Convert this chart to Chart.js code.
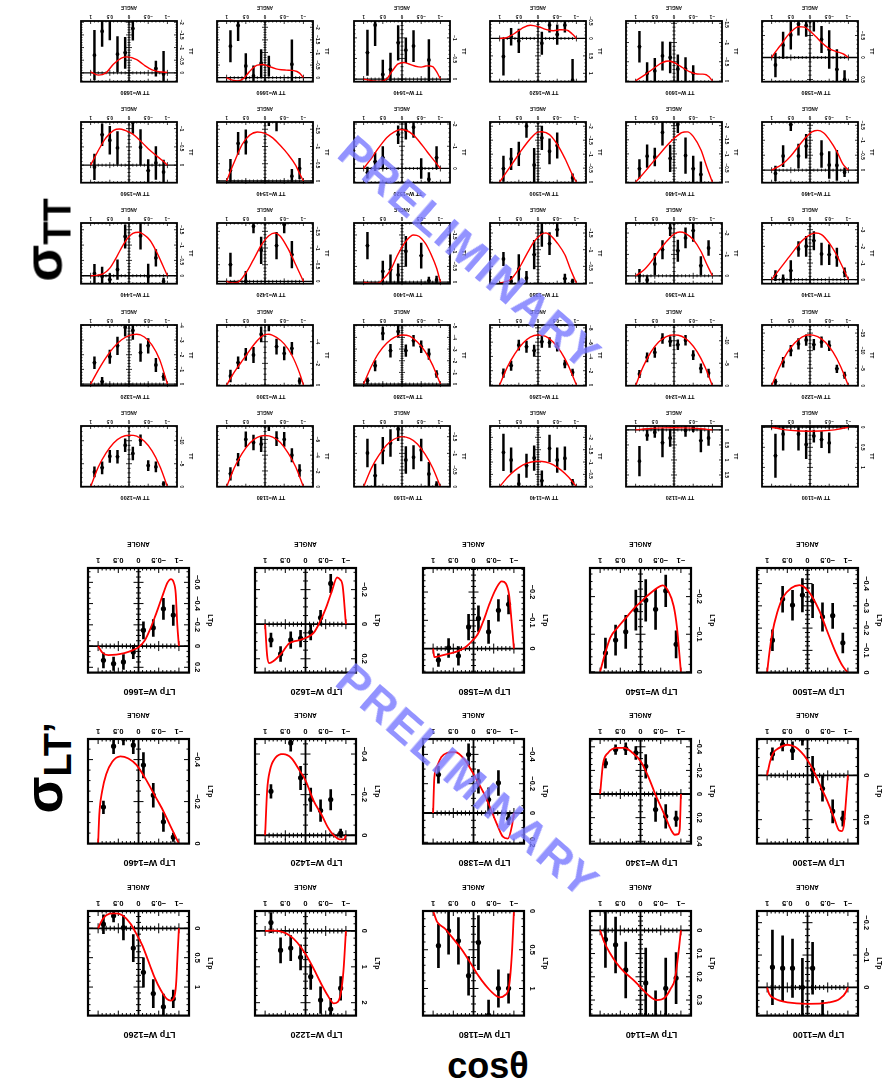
<!DOCTYPE html>
<html><head><meta charset="utf-8">
<script src="https://cdn.jsdelivr.net/npm/chart.js@4.4.1/dist/chart.umd.min.js"></script>
<style>
html,body{margin:0;padding:0;background:#fff;overflow:hidden;}
#page{position:relative;width:886px;height:1084px;overflow:hidden;background:#fff;}
.panel{position:absolute;transform:rotate(180deg);transform-origin:50% 50%;}
.panel canvas{display:block;}
.big{position:absolute;font-family:'Liberation Sans',Arial,Helvetica,sans-serif;font-weight:bold;color:#000;white-space:nowrap;line-height:1;}
.wm{position:absolute;font-family:'Liberation Sans',Arial,Helvetica,sans-serif;font-weight:bold;font-size:45px;letter-spacing:2px;color:rgba(120,120,255,0.8);white-space:nowrap;line-height:1;z-index:10;}
</style></head>
<body><div id="page">
<div class="big" style="left:46px;top:240px;transform:translate(-50%,-50%) rotate(-90deg);font-size:54px;">σ<sub style="font-size:38px;vertical-align:-9px;">TT</sub></div>
<div class="big" style="left:46px;top:768px;transform:translate(-50%,-50%) rotate(-90deg);font-size:54px;">σ<sub style="font-size:38px;vertical-align:-9px;">LT’</sub></div>
<div class="big" style="left:488px;top:1066px;transform:translate(-50%,-50%);font-size:36px;">cosθ</div>
<div class="wm" style="left:470px;top:253px;transform:translate(-50%,-50%) rotate(41deg);">PRELIMINARY</div>
<div class="wm" style="left:468px;top:781px;transform:translate(-50%,-50%) rotate(41deg);">PRELIMINARY</div>
</div>
<script>
// ---------------- DATA ----------------
const X_TICKS = [-1, -0.5, 0, 0.5, 1];

// sigma_TT panels (W ascending)
const TT_W = [1100,1120,1140,1160,1180,1200,1220,1240,1260,1280,1300,1320,1340,1360,1380,1400,1420,1440,1460,1480,1500,1520,1540,1560,1580,1600,1620,1640,1660,1680];
const TT_X = [-0.9,-0.7,-0.5,-0.3,-0.1,0.1,0.3,0.5,0.7,0.9];
const TT_Y = [
 [null,null,0.39,0.31,0.22,0.43,0.17,null,0.17,0.71],
 [0.27,0.36,-0.06,0.02,null,0.27,0.43,0.08,0.18,1.04],
 [-0.18,-1.15,-1.08,-1.55,-0.24,-1.16,-0.85,-0.11,-1.08,-1.39],
 [-0.05,-0.38,-1.1,-0.88,-0.8,-1.73,-1.31,-1.08,-0.33,-1.01],
 [-2.06,-4.0,-6.0,-6.1,-7.9,-5.4,-5.6,-6.0,-3.43,-1.63],
 [-0.6,-4.3,-4.6,-10.1,-7.2,-9.0,-6.5,-6.6,-4.1,-3.2],
 [-3.0,-4.8,-11.4,-12.4,-11.7,-13.0,-11.9,-10.0,-6.7,-1.1],
 [-2.8,-3.85,-6.8,-10.1,-9.1,-9.85,-10.5,-7.4,-6.3,-2.6],
 [-1.77,-2.93,-5.35,-5.95,-6.05,-4.8,-5.35,-5.58,-2.7,-1.67],
 [-0.86,-2.57,-3.2,-3.71,-2.86,-4.5,-2.86,-4.34,-1.57,-0.29],
 [-0.37,-3.38,-2.92,-3.54,-5.7,-4.68,-2.77,-2.83,-2.06,-0.83],
 [-0.5,-1.3,-2.6,-2.14,-3.64,-3.86,-2.6,-1.86,-0.16,-1.45],
 [-0.44,-1.34,-1.5,-1.54,-2.34,-2.0,-1.84,-0.54,-0.04,-0.24],
 [-1.3,-0.47,-2.11,-1.77,-1.17,-2.23,-1.22,-0.55,0.2,0],
 [-0.05,-0.13,-1.6,-1.18,-1.5,-0.85,-0.15,-0.42,-0.05,-0.72],
 [-0.07,-0.04,-0.84,null,-0.98,-0.23,-0.39,-0.34,null,-1.16],
 [null,-0.8,-1.7,-1.07,null,-0.93,-1.65,0,null,-0.5],
 [0.18,-0.58,0.02,-1.3,null,-1.28,-0.2,0.13,0.02,-0.07],
 [0.07,-0.16,-0.17,-0.54,null,-0.8,-0.47,-1.52,-0.47,0.11],
 [null,-0.27,-0.47,-0.94,-2.05,-0.84,-1.76,-0.89,-0.92,-0.47],
 [-0.15,null,-1.31,-1.1,-1.58,-0.61,-2.0,-1.01,-0.83,-0.48],
 [-0.48,0.49,0,-1.85,-1.72,-1.52,null,-0.48,-0.3,0.19],
 [-0.36,-0.14,null,-1.9,-1.95,null,null,-1.13,-1.09,-0.31],
 [0.19,-0.06,0.15,-0.49,-1.17,null,-0.47,-0.68,-0.83,0.05],
 [0.5,0.27,-0.18,-0.41,-0.9,-0.73,-0.76,-0.51,-0.28,0.17],
 [null,null,-0.2,-0.31,-0.31,-0.61,-0.65,-0.26,-0.2,-0.89],
 [1.2,-0.38,-0.11,-0.38,0.14,null,null,0.07,-0.05,0.52],
 [null,-0.46,null,-0.8,-0.7,-0.88,-0.23,-0.11,-1.31,-0.64],
 [null,-0.53,null,null,-0.46,-0.57,-0.07,-0.46,-2.07,-1.25],
 [0.05,-0.17,null,null,-1.75,-0.79,-0.74,-2.3,-1.64,-0.70]
];
const TT_E = [
 [null,null,0.25,0.2,0.15,0.35,0.4,null,0.4,0.54],
 [0.25,0.37,0.12,0.2,null,0.28,0.47,0.17,0.17,0.49],
 [0.12,0.47,0.5,0.54,0.4,0.5,0.47,0.4,0.5,0.74],
 [0.1,0.35,0.33,0.35,0.4,0.35,0.4,0.4,0.35,0.42],
 [0.75,0.85,0.9,0.9,0.8,0.95,0.95,0.95,0.8,0.8],
 [0.5,1.1,1.1,1.2,1.4,1.4,1.4,1.3,1.3,1.1],
 [0.9,1.1,1.4,1.5,1.5,1.5,1.5,1.5,1.4,0.8],
 [0.9,1.0,1.0,1.1,1.1,1.1,1.1,1.1,1.0,0.8],
 [0.45,0.55,0.6,0.7,0.8,0.8,0.8,0.7,0.65,0.6],
 [0.3,0.45,0.5,0.47,0.5,0.5,0.55,0.55,0.45,0.25],
 [0.3,0.55,0.6,0.7,0.7,0.7,0.7,0.55,0.55,0.55],
 [0.25,0.45,0.5,0.6,0.6,0.6,0.6,0.45,0.3,0.4],
 [0.27,0.55,0.6,0.65,0.55,0.6,0.45,0.6,0.25,0.3],
 [0.35,0.43,0.5,0.47,0.5,0.35,0.43,0.5,0.2,0.3],
 [0.07,0.14,0.2,0.33,0.4,0.43,0.2,0.43,0.15,0.2],
 [0.12,0.12,0.4,null,0.48,0.35,0.48,0.33,null,0.42],
 [null,0.4,0.25,0.4,null,0.4,0.2,0.3,null,0.35],
 [0.1,0.27,0.4,0.43,null,0.38,0.32,0.2,0.3,0.3],
 [0.15,0.5,0.45,0.45,null,0.4,0.4,0.2,0.35,0.25],
 [null,0.45,0.45,0.63,0.3,0.47,0.45,0.32,0.4,0.33],
 [0.15,null,0.45,0.45,0.42,0.6,0.4,0.42,0.38,0.45],
 [0.5,0.3,0.45,0.45,0.4,0.4,null,0.5,0.4,0.25],
 [0.3,0.2,null,0.45,0.35,null,null,0.35,0.32,0.32],
 [0.33,0.45,0.3,0.48,0.3,null,0.45,0.38,0.3,0.35],
 [0.2,0.45,0.43,0.3,0.3,0.25,0.25,0.32,0.3,0.27],
 [null,null,0.2,0.3,0.37,0.4,0.37,0.33,0.28,0.4],
 [0.6,0.2,0.28,0.2,0.32,null,null,0.34,0.24,0.53],
 [null,0.5,null,0.38,0.3,0.42,0.4,0.35,0.5,0.55],
 [null,0.97,null,null,0.4,0.55,0.4,0.5,0.6,0.62],
 [0.9,0.3,null,null,0.46,0.61,0.69,1.0,0.6,0.98]
];
const TT_YMIN = [-0.03,-0.13,-2.46,-1.82,-7.7,-13.2,-17.3,-13.5,-8.4,-5.06,-5.54,-4.02,-3.4,-2.47,-1.8,-1.88,-1.75,-1.72,-1.61,-2.13,-2.15,-2.09,-1.71,-1.18,-0.83,-1.56,-0.5,-1.41,-2.25,-2.05];
const TT_YMAX = [1.48,1.89,0,0,0,0,0,0,0.1,0.14,0.06,0.11,0.24,0.37,0.02,0.05,0.07,0.26,0.42,0.02,0.02,0.64,0.05,0.48,0.55,0.02,1.24,0.065,0.16,0.35];
const TT_YSTEP = [0.5,0.5,0.5,0.5,2,5,5,5,2,1,2,1,1,1,0.5,0.5,0.5,0.5,0.5,0.5,0.5,1,0.5,0.5,0.5,0.5,0.5,0.5,0.5,0.5];
const FX11 = [-1,-0.8,-0.6,-0.4,-0.2,0,0.2,0.4,0.6,0.8,1];
const TT_FIT_X = [
 [-1,-0.8,-0.5,0,0.5,0.8,1],
 [-1,-0.8,-0.6,0,0.6,0.8,1],
 FX11, FX11, FX11, FX11, FX11, FX11, FX11, FX11,
 [-1,-0.9,-0.7,-0.5,-0.3,-0.1,0,0.2,0.4,0.6,0.8,1],
 FX11,
 [-1,-0.85,-0.7,-0.5,-0.3,-0.15,0,0.2,0.4,0.6,0.8,1],
 [-1,-0.85,-0.7,-0.5,-0.3,-0.15,0,0.2,0.4,0.6,0.8,1],
 [-1,-0.85,-0.7,-0.5,-0.35,-0.2,-0.1,0.1,0.3,0.5,0.7,0.85,1],
 [-1,-0.9,-0.75,-0.6,-0.45,-0.3,-0.1,0.1,0.3,0.5,0.65,0.8,1],
 [-1,-0.8,-0.6,-0.4,-0.25,-0.1,0.1,0.3,0.5,0.7,0.85,1],
 [-1,-0.85,-0.7,-0.55,-0.4,-0.25,-0.1,0.05,0.2,0.35,0.5,0.65,0.8,1],
 [-1,-0.85,-0.7,-0.5,-0.35,-0.2,-0.05,0.1,0.3,0.5,0.7,0.85,1],
 [-1,-0.85,-0.7,-0.5,-0.35,-0.2,0,0.2,0.4,0.6,0.8,1],
 [-1,-0.9,-0.7,-0.5,-0.3,-0.1,0,0.2,0.4,0.6,0.8,1],
 [-1,-0.9,-0.7,-0.5,-0.3,-0.1,0.05,0.2,0.4,0.6,0.8,1],
 [-1,-0.9,-0.8,-0.6,-0.4,-0.2,0,0.2,0.4,0.6,0.8,1],
 [-1,-0.9,-0.7,-0.5,-0.3,-0.1,0.1,0.25,0.4,0.6,0.8,1],
 [-1,-0.85,-0.7,-0.5,-0.3,-0.15,0,0.15,0.3,0.45,0.6,0.75,0.9,1],
 [-1,-0.92,-0.8,-0.6,-0.4,-0.2,0,0.15,0.3,0.5,0.7,0.85,1],
 [-1,-0.9,-0.75,-0.6,-0.4,-0.2,0,0.2,0.4,0.6,0.8,1],
 [-1,-0.9,-0.8,-0.65,-0.5,-0.35,-0.2,-0.05,0.1,0.25,0.4,0.6,0.8,1],
 [-1,-0.9,-0.75,-0.55,-0.35,-0.15,0.05,0.2,0.4,0.55,0.7,0.85,1],
 [-1,-0.8,-0.6,-0.4,-0.2,0.05,0.2,0.4,0.6,0.8,1]
];
const TT_FIT_Y = [
 [0,0.04,0.08,0.1,0.08,0.04,0],
 [0,-0.03,-0.05,-0.07,-0.05,-0.03,0],
 [0,-0.38,-0.67,-0.88,-1.0,-1.03,-0.99,-0.87,-0.66,-0.37,0],
 [0,-0.56,-0.98,-1.28,-1.45,-1.5,-1.43,-1.25,-0.95,-0.55,0],
 [0,-2.5,-4.3,-5.6,-6.3,-6.5,-6.25,-5.5,-4.2,-2.4,0],
 [0,-4.5,-7.8,-9.9,-11.0,-11.2,-10.8,-9.5,-7.3,-4.3,0],
 [0,-5.4,-9.6,-12.4,-14.0,-14.5,-13.9,-12.2,-9.3,-5.2,0],
 [0,-4.3,-7.6,-9.8,-11.0,-11.3,-10.9,-9.7,-7.5,-4.3,0],
 [0,-2.6,-4.6,-6.0,-6.8,-7.0,-6.7,-5.8,-4.4,-2.5,0],
 [0,-1.6,-2.8,-3.6,-4.1,-4.2,-4.0,-3.5,-2.7,-1.5,0],
 [0,-1.1,-2.75,-3.8,-4.4,-4.68,-4.65,-4.1,-3.2,-2.2,-1.2,0],
 [0,-1.65,-2.65,-3.2,-3.39,-3.3,-3.0,-2.5,-1.8,-0.95,0],
 [0,-0.75,-1.45,-2.2,-2.7,-2.8,-2.7,-2.35,-1.8,-1.2,-0.6,0],
 [0,-0.55,-1.15,-1.7,-1.98,-2.05,-1.95,-1.6,-1.15,-0.65,-0.25,0],
 [0,-0.4,-0.85,-1.2,-1.4,-1.5,-1.47,-1.25,-0.85,-0.43,-0.12,-0.04,0],
 [0,-0.45,-0.9,-1.25,-1.45,-1.5,-1.3,-0.9,-0.38,-0.08,0.04,0.04,0],
 [0,-0.5,-0.98,-1.35,-1.45,-1.37,-1.08,-0.65,-0.25,0.02,0.05,0],
 [0,-0.42,-0.82,-1.15,-1.33,-1.42,-1.38,-1.2,-0.9,-0.55,-0.25,-0.08,-0.02,0],
 [0,-0.22,-0.62,-1.03,-1.25,-1.33,-1.28,-1.11,-0.8,-0.47,-0.22,-0.1,0],
 [0,-0.55,-1.15,-1.62,-1.78,-1.75,-1.55,-1.27,-0.95,-0.63,-0.3,0],
 [0,-0.25,-0.85,-1.35,-1.7,-1.8,-1.79,-1.55,-1.2,-0.8,-0.4,0],
 [0,-0.22,-0.65,-1.1,-1.5,-1.72,-1.75,-1.65,-1.38,-0.95,-0.45,0],
 [0,-0.22,-0.45,-0.77,-1.03,-1.25,-1.38,-1.42,-1.33,-1.05,-0.55,0],
 [0,-0.1,-0.27,-0.45,-0.66,-0.85,-0.95,-0.99,-0.95,-0.75,-0.4,0],
 [0,-0.09,-0.13,-0.2,-0.34,-0.48,-0.6,-0.69,-0.7,-0.62,-0.48,-0.3,-0.13,0],
 [0,-0.1,-0.17,-0.18,-0.24,-0.36,-0.48,-0.52,-0.48,-0.35,-0.2,-0.1,0],
 [0,-0.12,-0.24,-0.25,-0.22,-0.26,-0.34,-0.38,-0.3,-0.15,-0.03,0],
 [0,-0.18,-0.3,-0.32,-0.29,-0.31,-0.36,-0.4,-0.37,-0.2,0,0.06,0.04,0],
 [0,-0.18,-0.28,-0.3,-0.33,-0.42,-0.52,-0.5,-0.25,0.02,0.13,0.1,0],
 [-0.02,-0.04,-0.12,-0.3,-0.52,-0.63,-0.58,-0.35,0,0.09,-0.04]
];

// sigma_LT' panels (W ascending)
const LT_W = [1100,1140,1180,1220,1260,1300,1340,1380,1420,1460,1500,1540,1580,1620,1660];
const LT_X = [
 [0.868,0.616,0.371,0.126,-0.126,-0.373],
 [0.868,0.617,0.366,-0.129,-0.373,-0.624,-0.881],
 [0.868,0.617,0.373,0.122,-0.122,-0.373,-0.617,-0.868],
 [0.855,0.617,0.366,0.122,-0.129,-0.373,-0.624,-0.87],
 [0.868,0.617,0.373,0.129,-0.122,-0.366,-0.617,-0.861],
 [0.868,0.616,0.371,0.126,-0.126,-0.371,-0.623,-0.874],
 [0.868,0.617,0.366,0.116,-0.129,-0.373,-0.624,-0.881],
 [0.868,0.122,-0.122,-0.373,-0.617,-0.868],
 [0.855,0.366,0.122,-0.129,-0.373,-0.624,-0.87],
 [0.868,0.617,0.373,0.129,-0.122,-0.366,-0.617,-0.861],
 [0.868,0.616,0.371,0.126,-0.126,-0.371,-0.623,-0.874],
 [0.868,0.617,0.366,0.116,-0.129,-0.373,-0.624,-0.881],
 [0.868,0.617,0.373,0.122,-0.122,-0.373,-0.617,-0.868],
 [0.855,0.617,0.366,0.122,-0.129,-0.373,-0.624],
 [0.868,0.617,0.373,0.129,-0.122,-0.366,-0.617,-0.861]
];
const LT_Y = [
 [-0.062,-0.059,-0.059,0.0,-0.059,0.09],
 [0.04,0.063,0.171,0.227,0.4,0.25,0.206],
 [0.45,0.257,0.386,0.837,0.408,1.35,1.0,1.0],
 [-0.23,0.54,0.48,0.74,1.28,1.93,2.18,1.6],
 [-0.068,-0.209,-0.011,0.339,0.751,1.113,1.339,1.203],
 [-0.24,-0.346,-0.278,-0.41,-0.064,0.15,0.406,0.489],
 [-0.26,-0.376,-0.384,-0.347,-0.234,0.133,0.19,0.209],
 [-0.261,-0.398,-0.216,-0.091,-0.205,0.039],
 [-0.216,-0.454,-0.282,-0.175,-0.121,-0.175,-0.01],
 [-0.173,-0.463,-0.5,-0.468,-0.373,-0.23,-0.103,-0.03],
 [-0.145,-0.33,-0.303,-0.348,-0.322,-0.25,-0.255,-0.133],
 [-0.05,-0.084,-0.106,-0.164,-0.19,-0.166,-0.215,-0.073],
 [0.041,-0.002,0.026,-0.076,-0.106,-0.059,-0.135,-0.156],
 [0.092,0.173,0.092,0.083,0.048,-0.037,-0.235],
 [0.135,0.167,0.151,0.057,-0.148,-0.17,-0.35,-0.29]
];
const LT_E = [
 [0.115,0.1,0.09,0.09,0.08,0.05],
 [0.12,0.12,0.12,0.15,0.14,0.13,0.11],
 [0.28,0.3,0.3,0.25,0.35,0.2,0.24,0.19],
 [0.28,0.35,0.35,0.35,0.35,0.37,0.3,0.33],
 [0.16,0.1,0.21,0.23,0.25,0.24,0.22,0.15],
 [0.07,0.07,0.1,0.07,0.15,0.14,0.13,0.085],
 [0.04,0.04,0.05,0.055,0.1,0.1,0.1,0.065],
 [0.057,0.074,0.08,0.08,0.085,0.04],
 [0.033,0.04,0.057,0.057,0.053,0.05,0.02],
 [0.03,0.035,0.03,0.04,0.06,0.057,0.045,0.02],
 [0.047,0.058,0.067,0.075,0.075,0.064,0.056,0.045],
 [0.04,0.04,0.044,0.053,0.055,0.053,0.042,0.036],
 [0.022,0.033,0.033,0.045,0.045,0.041,0.038,0.033],
 [0.04,0.043,0.048,0.048,0.043,0.043,0.053],
 [0.07,0.063,0.07,0.063,0.08,0.08,0.1,0.095]
];
const LT_YMIN = [-0.236,-0.083,0,-0.556,-0.294,-0.41,-0.466,-0.505,-0.474,-0.498,-0.47,-0.276,-0.285,-0.325,-0.735];
const LT_YMAX = [0.087,0.367,1.35,2.36,1.486,0.77,0.42,0.209,0.041,0,0,0.002,0.085,0.28,0.25];
const LT_YSTEP = [0.1,0.1,0.5,1,0.5,0.5,0.2,0.2,0.2,0.2,0.1,0.1,0.1,0.2,0.2];
const LT_FIT_X = [
 [-1,-0.95,-0.8,-0.5,0,0.5,0.8,0.95,1],
 [-1,-0.93,-0.85,-0.75,-0.6,-0.4,-0.2,0,0.2,0.4,0.6,0.75,0.9,1],
 [-1,-0.95,-0.88,-0.77,-0.65,-0.5,-0.3,-0.1,0.1,0.3,0.5,0.7,0.9,1],
 [-1,-0.94,-0.88,-0.8,-0.7,-0.55,-0.4,-0.2,0,0.2,0.4,0.6,0.8,1],
 [-1,-0.97,-0.93,-0.88,-0.8,-0.7,-0.55,-0.4,-0.25,-0.1,0.05,0.2,0.4,0.6,0.8,0.9,1],
 [-1,-0.95,-0.9,-0.85,-0.78,-0.65,-0.5,-0.3,-0.15,0,0.15,0.3,0.5,0.7,0.85,0.93,1],
 [-1,-0.97,-0.93,-0.85,-0.75,-0.6,-0.4,-0.2,0,0.2,0.4,0.6,0.8,0.93,1],
 [-1,-0.95,-0.85,-0.72,-0.6,-0.45,-0.3,-0.15,0.05,0.25,0.45,0.65,0.8,0.9,0.97,1],
 [-1,-0.95,-0.85,-0.7,-0.55,-0.4,-0.2,0,0.15,0.35,0.55,0.75,0.88,0.95,1],
 [-1,-0.8,-0.6,-0.4,-0.2,0.05,0.25,0.45,0.65,0.8,0.9,0.97,1],
 [-1,-0.95,-0.85,-0.7,-0.5,-0.3,-0.1,0.05,0.2,0.4,0.6,0.75,0.88,0.95,1],
 [-1,-0.96,-0.9,-0.82,-0.7,-0.55,-0.4,-0.2,0,0.15,0.35,0.55,0.75,0.9,1],
 [-1,-0.94,-0.88,-0.8,-0.7,-0.55,-0.4,-0.25,-0.1,0.05,0.2,0.4,0.6,0.8,0.97,1],
 [-1,-0.92,-0.85,-0.78,-0.65,-0.5,-0.35,-0.2,0,0.2,0.4,0.6,0.8,0.9,0.95,1],
 [-1,-0.96,-0.92,-0.87,-0.8,-0.72,-0.6,-0.45,-0.3,-0.15,0,0.15,0.35,0.55,0.75,0.9,1]
];
const LT_FIT_Y = [
 [0,0.015,0.035,0.047,0.051,0.046,0.035,0.02,0],
 [0,0.11,0.21,0.25,0.29,0.3,0.28,0.245,0.21,0.18,0.14,0.1,0.05,0],
 [0,0.55,0.97,1.09,1.115,1.07,0.96,0.82,0.65,0.49,0.36,0.23,0.14,0],
 [0,1.1,1.7,1.98,2.02,1.8,1.5,1.05,0.64,0.33,0.12,0.02,-0.01,0],
 [0,0.4,0.95,1.18,1.23,1.2,1.05,0.84,0.57,0.3,0.1,-0.08,-0.22,-0.255,-0.22,-0.14,0],
 [0,0.3,0.56,0.63,0.62,0.47,0.3,0.1,-0.05,-0.17,-0.26,-0.32,-0.345,-0.31,-0.25,-0.15,0],
 [0,0.3,0.34,0.345,0.3,0.18,0.03,-0.14,-0.28,-0.35,-0.39,-0.39,-0.35,-0.25,0],
 [0,0.09,0.175,0.16,0.09,-0.01,-0.11,-0.19,-0.29,-0.375,-0.416,-0.41,-0.38,-0.32,-0.24,0],
 [0,0.02,0.02,0,-0.04,-0.1,-0.17,-0.27,-0.32,-0.38,-0.4,-0.38,-0.32,-0.22,0],
 [0,-0.08,-0.16,-0.23,-0.3,-0.375,-0.405,-0.415,-0.39,-0.33,-0.25,-0.14,0],
 [0,-0.01,-0.035,-0.09,-0.18,-0.275,-0.345,-0.38,-0.393,-0.38,-0.34,-0.27,-0.17,-0.08,0],
 [0,-0.05,-0.12,-0.175,-0.212,-0.23,-0.222,-0.205,-0.185,-0.17,-0.145,-0.12,-0.09,-0.04,0],
 [0,-0.1,-0.19,-0.23,-0.238,-0.21,-0.16,-0.1,-0.05,-0.025,-0.005,0.01,0.018,0.025,0.03,0],
 [0,-0.22,-0.26,-0.27,-0.19,-0.09,-0.01,0.05,0.08,0.095,0.11,0.17,0.215,0.225,0.18,0],
 [0,-0.2,-0.5,-0.6,-0.63,-0.6,-0.48,-0.32,-0.17,-0.05,0.012,0.04,0.066,0.08,0.085,0.06,0]
];

// ---------------- RENDERING ----------------
const FAM = "'Liberation Sans', Arial, Helvetica, sans-serif";
function fmt(v) {
  const r = Math.round(v * 1000) / 1000;
  if (r === 0) return '0';
  return (r < 0 ? '\u2212' : '') + String(Math.abs(r));
}

const STYLE_TT = { fw:96, fh:61, titleSize:5.5, titlePad:{top:1,bottom:7.7}, tickSize:4.6, tickPad:2.2,
  xTitleSize:4.6, xH:17, xTitlePadB:0.3, yTitleSize:5, yW:16, yTitlePadT:0,
  frameW:1.8, tickW:0.8, majL:3, minL:1.5, zeroW:1.3, ptR:1.9, barW:1.8, lineW:1.4, yLabOff:4.3 };
const STYLE_LT = { fw:101, fh:105, titleSize:9, titlePad:{top:2,bottom:13.6}, tickSize:7.5, tickPad:3.5,
  xTitleSize:6.5, xH:28, xTitlePadB:0, yTitleSize:7, yW:26, yTitlePadT:0.8,
  frameW:2.2, tickW:1, majL:5, minL:2.5, zeroW:1.8, ptR:2.6, barW:2, lineW:1.8, yLabOff:8 };

const seg = (ctx, x1, y1, x2, y2) => { ctx.beginPath(); ctx.moveTo(x1, y1); ctx.lineTo(x2, y2); ctx.stroke(); };

const pawPlugin = {
  id: 'paw',
  beforeDatasetsDraw(chart, args, o) {
    const {ctx, chartArea: a, scales: {x, y}} = chart;
    ctx.save();
    ctx.strokeStyle = '#000';
    const x0 = x.getPixelForValue(0);
    const y0 = y.getPixelForValue(0);
    const hasY0 = y0 > a.top + 1 && y0 < a.bottom - 1;
    ctx.lineWidth = o.tickW;
    for (let k = -10; k <= 10; k++) {
      const px = x.getPixelForValue(k / 10);
      const L = (k % 5 === 0) ? o.majL : o.minL;
      seg(ctx, px, a.bottom, px, a.bottom - L);
      seg(ctx, px, a.top, px, a.top + L);
      if (hasY0) seg(ctx, px, y0 - L, px, y0 + L);
    }
    const ms = o.yStep / o.ySub;
    const k0 = Math.ceil(y.min / ms - 1e-6), k1 = Math.floor(y.max / ms + 1e-6);
    for (let k = k0; k <= k1; k++) {
      const py = y.getPixelForValue(k * ms);
      const L = (k % o.ySub === 0) ? o.majL : o.minL;
      seg(ctx, a.left, py, a.left + L, py);
      seg(ctx, a.right, py, a.right - L, py);
      seg(ctx, x0 - L, py, x0 + L, py);
    }
    ctx.lineWidth = o.zeroW;
    seg(ctx, x0, a.top, x0, a.bottom);
    if (hasY0) seg(ctx, a.left, y0, a.right, y0);
    ctx.restore();
  },
  afterDatasetsDraw(chart, args, o) {
    const {ctx, chartArea: a} = chart;
    ctx.save();
    ctx.strokeStyle = '#000';
    ctx.lineWidth = o.frameW;
    ctx.strokeRect(a.left, a.top, a.right - a.left, a.bottom - a.top);
    ctx.restore();
  },
  afterDraw(chart, args, o) {
    const {ctx, chartArea: a, scales: {y}} = chart;
    ctx.save();
    ctx.fillStyle = '#000';
    ctx.font = 'bold ' + o.tickSize + 'px ' + FAM;
    ctx.textAlign = 'center';
    ctx.textBaseline = 'middle';
    const k0 = Math.ceil(y.min / o.yStep - 1e-6), k1 = Math.floor(y.max / o.yStep + 1e-6);
    for (let k = k0; k <= k1; k++) {
      const v = k * o.yStep;
      const py = y.getPixelForValue(v);
      ctx.save();
      ctx.translate(a.left - o.yLabOff, py);
      ctx.rotate(-Math.PI / 2);
      ctx.fillText(fmt(v), 0, 0);
      ctx.restore();
    }
    ctx.restore();
  }
};

function buildConfig(s) {
  const st = s.style;
  const pts = [], bars = [];
  for (let i = 0; i < s.xs.length; i++) {
    if (s.ys[i] === null || s.ys[i] === undefined) continue;
    pts.push({x: s.xs[i], y: s.ys[i]});
    bars.push({x: s.xs[i], y: [s.ys[i] - s.es[i], s.ys[i] + s.es[i]]});
  }
  const fit = s.fx.map((v, i) => ({x: v, y: s.fy[i]}));
  const font = (size) => ({family: FAM, size: size, weight: 'bold', lineHeight: 1.2});
  return {
    type: 'scatter',
    data: { datasets: [
      { type: 'bar', data: bars, backgroundColor: '#000', borderWidth: 0, barThickness: st.barW, order: 3 },
      { type: 'scatter', data: pts, pointRadius: st.ptR, pointBackgroundColor: '#000', pointBorderColor: '#000', pointBorderWidth: 0, order: 2 },
      { type: 'line', data: fit, borderColor: '#ff0000', borderWidth: st.lineW, pointRadius: 0, fill: false, cubicInterpolationMode: 'monotone', order: 1 }
    ]},
    options: {
      responsive: false, maintainAspectRatio: false, animation: false, devicePixelRatio: 1, events: [],
      layout: { padding: 0 },
      plugins: {
        legend: { display: false }, tooltip: { enabled: false },
        title: { display: true, text: s.title, color: '#000', font: font(st.titleSize), padding: st.titlePad },
        paw: { yStep: s.ystep, ySub: (Math.abs(s.ystep - 0.2) < 1e-9 || Math.abs(s.ystep - 2) < 1e-9) ? 4 : 5,
               tickW: st.tickW, majL: st.majL, minL: st.minL, zeroW: st.zeroW, frameW: st.frameW,
               tickSize: st.tickSize, yLabOff: st.yLabOff }
      },
      scales: {
        x: { type: 'linear', min: -1, max: 1, position: 'bottom',
             afterBuildTicks: (sc) => { sc.ticks = X_TICKS.map(v => ({value: v})); },
             ticks: { color: '#000', font: font(st.tickSize), padding: st.tickPad, maxRotation: 0, minRotation: 0, autoSkip: false, callback: (v) => fmt(v) },
             grid: { display: false, drawTicks: false }, border: { display: false },
             title: { display: true, text: 'ANGLE', color: '#000', font: font(st.xTitleSize), padding: {top: 0, bottom: st.xTitlePadB} },
             afterFit: (sc) => { sc.height = st.xH; } },
        y: { type: 'linear', min: s.ymin, max: s.ymax, position: 'left',
             ticks: { display: false },
             grid: { display: false, drawTicks: false }, border: { display: false },
             title: { display: true, text: s.yTitle, color: '#000', font: font(st.yTitleSize), padding: {top: st.yTitlePadT, bottom: 0} },
             afterFit: (sc) => { sc.width = st.yW; } }
      }
    },
    plugins: [pawPlugin]
  };
}

const page = document.getElementById('page');
const firstOverlay = page.querySelector('.big');

function makePanel(s) {
  const st = s.style;
  const div = document.createElement('div');
  div.className = 'panel';
  page.insertBefore(div, firstOverlay);
  const build = (W, H) => {
    div.innerHTML = '';
    div.style.width = W + 'px'; div.style.height = H + 'px';
    const cv = document.createElement('canvas');
    cv.width = W; cv.height = H; cv.style.width = W + 'px'; cv.style.height = H + 'px';
    div.appendChild(cv);
    return new Chart(cv, buildConfig(s));
  };
  let W = Math.round(st.yW + st.fw + 4);
  let H = Math.round(st.titleSize * 1.2 + st.titlePad.top + st.titlePad.bottom + st.fh + st.xH);
  let ch = build(W, H);
  let a = ch.chartArea;
  const dw = Math.round(st.fw - (a.right - a.left));
  const dh = Math.round(st.fh - (a.bottom - a.top));
  if (dw !== 0 || dh !== 0) {
    ch.destroy();
    W += dw; H += dh;
    ch = build(W, H);
    a = ch.chartArea;
  }
  div.style.left = (s.left - (W - a.right)) + 'px';
  div.style.top = (s.top - (H - a.bottom)) + 'px';
}

// sigma_TT grid (pictured upside down: highest W at upper left)
TT_W.forEach((w, i) => {
  const r = 4 - Math.floor(i / 6), c = 5 - (i % 6);
  makePanel({ style: STYLE_TT, title: 'TT W=' + w, yTitle: 'TT',
    xs: TT_X, ys: TT_Y[i], es: TT_E[i], fx: TT_FIT_X[i], fy: TT_FIT_Y[i],
    ymin: TT_YMIN[i], ymax: TT_YMAX[i], ystep: TT_YSTEP[i],
    left: 81 + 136.26 * c, top: 20.7 + 101.33 * r });
});

// sigma_LT' grid
LT_W.forEach((w, i) => {
  const r = 2 - Math.floor(i / 5), c = 4 - (i % 5);
  makePanel({ style: STYLE_LT, title: 'LTp W=' + w, yTitle: 'LTp',
    xs: LT_X[i], ys: LT_Y[i], es: LT_E[i], fx: LT_FIT_X[i], fy: LT_FIT_Y[i],
    ymin: LT_YMIN[i], ymax: LT_YMAX[i], ystep: LT_YSTEP[i],
    left: 88.3 + 167.1 * c, top: 567.7 + 171.65 * r });
});
</script>
</body></html>
